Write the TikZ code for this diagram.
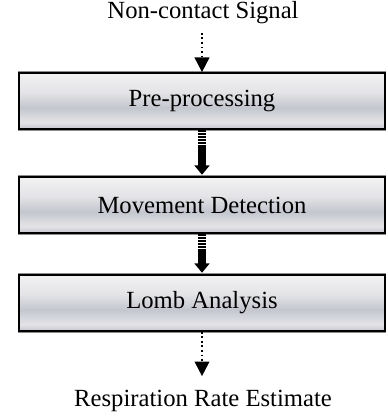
\documentclass[tikz,border=0pt]{standalone}
\usepackage{fontspec}
\setmainfont{Liberation Serif}
\usetikzlibrary{arrows.meta}

\definecolor{metaltop}{RGB}{242,242,243}
\definecolor{metalband}{RGB}{196,198,207}
\definecolor{metallow}{RGB}{228,228,231}
\pgfdeclareverticalshading{metal}{100bp}{color(0bp)=(metalband);
  color(25bp)=(metalband); color(31bp)=(metallow); color(44bp)=(metalband);
  color(58bp)=(metallow); color(75bp)=(metaltop); color(100bp)=(metaltop)}

\tikzset{
  stage/.style={draw=black, line width=1.3pt, shading=metal,
    preaction={draw=black!45, line width=2.6pt},
    minimum width=274pt, minimum height=42pt, inner sep=0pt,
    font=\fontsize{18.5}{22}\selectfont},
  endtext/.style={font=\fontsize{18.5}{22}\selectfont},
  sigarrow/.style={dotted, line width=1.4pt,
    -{Triangle[width=11pt,length=11pt]}},
  flowarrow/.style={line width=5.5pt, dash pattern=on 1.8pt off 0.4pt,
    -{Triangle[width=11pt,length=7pt]}}
}

\begin{document}
\begin{tikzpicture}[x=0.75pt,y=-0.75pt]
  \useasboundingbox (0,0) rectangle (387,417);

  \node[endtext] (signal) at (203,13) {Non-contact Signal};

  \node[stage] (pre) at (202,101) {Pre-processing};
  \node[stage] (move) at (202,205) {Movement Detection};
  \node[stage] (lomb) at (202,303) {Lomb Analysis};

  \node[endtext] (rate) at (203,401) {Respiration Rate Estimate};

  \draw[sigarrow, shorten <=3pt] (signal.south -| pre) -- (pre);
  \draw[flowarrow, shorten >=1pt] (pre) -- (move);
  \draw[flowarrow, shorten >=1pt] (move) -- (lomb);
  \draw[sigarrow, shorten >=7pt] (lomb) -- (rate.north -| lomb);
\end{tikzpicture}
\end{document}
